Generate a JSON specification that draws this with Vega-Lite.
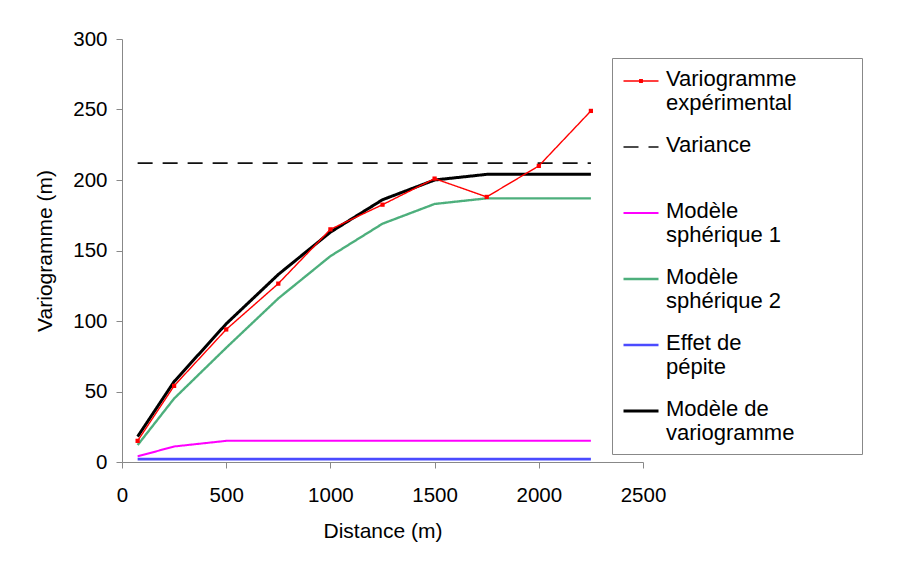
{
  "$schema": "https://vega.github.io/schema/vega-lite/v6.json",
  "width": 521,
  "height": 423,
  "autosize": "none",
  "padding": {"left": 122, "top": 39, "right": 262, "bottom": 102},
  "background": "white",
  "config": {"font": "Liberation Sans", "view": {"stroke": null}},
  "data": {
    "values": [
      {"serie": "Modèle de variogramme", "distance": 75, "gamma": 18},
      {"serie": "Modèle de variogramme", "distance": 250, "gamma": 57},
      {"serie": "Modèle de variogramme", "distance": 500, "gamma": 98},
      {"serie": "Modèle de variogramme", "distance": 750, "gamma": 133},
      {"serie": "Modèle de variogramme", "distance": 1000, "gamma": 163},
      {"serie": "Modèle de variogramme", "distance": 1250, "gamma": 186},
      {"serie": "Modèle de variogramme", "distance": 1500, "gamma": 200},
      {"serie": "Modèle de variogramme", "distance": 1750, "gamma": 204},
      {"serie": "Modèle de variogramme", "distance": 2000, "gamma": 204},
      {"serie": "Modèle de variogramme", "distance": 2250, "gamma": 204},
      {"serie": "Modèle sphérique 2", "distance": 75, "gamma": 12},
      {"serie": "Modèle sphérique 2", "distance": 250, "gamma": 45},
      {"serie": "Modèle sphérique 2", "distance": 500, "gamma": 81},
      {"serie": "Modèle sphérique 2", "distance": 750, "gamma": 116},
      {"serie": "Modèle sphérique 2", "distance": 1000, "gamma": 146},
      {"serie": "Modèle sphérique 2", "distance": 1250, "gamma": 169},
      {"serie": "Modèle sphérique 2", "distance": 1500, "gamma": 183},
      {"serie": "Modèle sphérique 2", "distance": 1750, "gamma": 187},
      {"serie": "Modèle sphérique 2", "distance": 2000, "gamma": 187},
      {"serie": "Modèle sphérique 2", "distance": 2250, "gamma": 187},
      {"serie": "Modèle sphérique 1", "distance": 75, "gamma": 4},
      {"serie": "Modèle sphérique 1", "distance": 250, "gamma": 11},
      {"serie": "Modèle sphérique 1", "distance": 500, "gamma": 15},
      {"serie": "Modèle sphérique 1", "distance": 750, "gamma": 15},
      {"serie": "Modèle sphérique 1", "distance": 1000, "gamma": 15},
      {"serie": "Modèle sphérique 1", "distance": 1250, "gamma": 15},
      {"serie": "Modèle sphérique 1", "distance": 1500, "gamma": 15},
      {"serie": "Modèle sphérique 1", "distance": 1750, "gamma": 15},
      {"serie": "Modèle sphérique 1", "distance": 2000, "gamma": 15},
      {"serie": "Modèle sphérique 1", "distance": 2250, "gamma": 15},
      {"serie": "Effet de pépite", "distance": 75, "gamma": 2},
      {"serie": "Effet de pépite", "distance": 250, "gamma": 2},
      {"serie": "Effet de pépite", "distance": 500, "gamma": 2},
      {"serie": "Effet de pépite", "distance": 750, "gamma": 2},
      {"serie": "Effet de pépite", "distance": 1000, "gamma": 2},
      {"serie": "Effet de pépite", "distance": 1250, "gamma": 2},
      {"serie": "Effet de pépite", "distance": 1500, "gamma": 2},
      {"serie": "Effet de pépite", "distance": 1750, "gamma": 2},
      {"serie": "Effet de pépite", "distance": 2000, "gamma": 2},
      {"serie": "Effet de pépite", "distance": 2250, "gamma": 2},
      {"serie": "Variance", "distance": 75, "gamma": 212},
      {"serie": "Variance", "distance": 2250, "gamma": 212},
      {"serie": "Variogramme expérimental", "distance": 75, "gamma": 15},
      {"serie": "Variogramme expérimental", "distance": 250, "gamma": 54},
      {"serie": "Variogramme expérimental", "distance": 500, "gamma": 94},
      {"serie": "Variogramme expérimental", "distance": 750, "gamma": 126.5},
      {"serie": "Variogramme expérimental", "distance": 1000, "gamma": 165},
      {"serie": "Variogramme expérimental", "distance": 1250, "gamma": 182.5},
      {"serie": "Variogramme expérimental", "distance": 1500, "gamma": 201},
      {"serie": "Variogramme expérimental", "distance": 1750, "gamma": 188},
      {"serie": "Variogramme expérimental", "distance": 2000, "gamma": 210},
      {"serie": "Variogramme expérimental", "distance": 2250, "gamma": 249}
    ]
  },
  "encoding": {
    "x": {
      "field": "distance", "type": "quantitative",
      "scale": {"domain": [0, 2500], "nice": false},
      "axis": {
        "title": "Distance (m)", "values": [0, 500, 1000, 1500, 2000, 2500], "format": "d",
        "grid": false, "domainColor": "#888", "tickColor": "#888", "tickSize": 6,
        "labelFontSize": 20.5, "labelColor": "black", "labelPadding": 17, "labelFlush": false,
        "titleFontSize": 21, "titleFontWeight": "normal", "titleColor": "black", "titlePadding": 15
      }
    },
    "y": {
      "field": "gamma", "type": "quantitative",
      "scale": {"domain": [0, 300], "nice": false},
      "axis": {
        "title": "Variogramme (m)", "values": [0, 50, 100, 150, 200, 250, 300], "format": "d",
        "grid": false, "domainColor": "#888", "tickColor": "#888", "tickSize": 6,
        "labelFontSize": 20.5, "labelColor": "black", "labelPadding": 9,
        "titleFontSize": 21, "titleFontWeight": "normal", "titleColor": "black", "titlePadding": 17
      }
    }
  },
  "layer": [
    {
      "mark": {"type": "line", "strokeJoin": "miter"},
      "encoding": {
        "color": {
          "field": "serie", "type": "nominal",
          "scale": {
            "domain": ["Variogramme expérimental", "Variance", "Modèle sphérique 1", "Modèle sphérique 2", "Effet de pépite", "Modèle de variogramme"],
            "range": ["#FF0000", "#111111", "#FF00FF", "#4DAF7C", "#4B4BFF", "#000000"]
          },
          "legend": {
            "orient": "none", "legendX": 490, "legendY": 19,
            "title": "\u00a0", "titleOrient": "right", "titleFontSize": 40, "titlePadding": 56,
            "strokeColor": "#888", "fillColor": "white", "padding": 10,
            "labelFontSize": 22, "labelColor": "black", "labelFont": "Liberation Sans",
            "labelLineHeight": 23.5, "labelBaseline": "top",
            "symbolType": "stroke", "symbolSize": 1225, "rowPadding": 20,
            "labelOffset": 6, "labelLimit": 300,
            "labelExpr": "datum.label == 'Variogramme expérimental' ? ['Variogramme', 'expérimental'] : datum.label == 'Variance' ? ['Variance', ' '] : datum.label == 'Modèle sphérique 1' ? ['Modèle', 'sphérique 1'] : datum.label == 'Modèle sphérique 2' ? ['Modèle', 'sphérique 2'] : datum.label == 'Effet de pépite' ? ['Effet de', 'pépite'] : ['Modèle de', 'variogramme']",
            "encode": {
              "labels": {"update": {"y": {"value": 13}, "dy": {"value": -12}}},
              "symbols": {"update": {
                "y": {"value": 13},
                "shape": {"signal": "datum.value === 'Variogramme expérimental' ? 'M-1,0L1,0M-0.07,-0.07L0.07,-0.07L0.07,0.07L-0.07,0.07Z' : 'stroke'"},
                "fill": {"signal": "datum.value === 'Variogramme expérimental' ? '#FF0000' : 'transparent'"}
              }}
            }
          }
        },
        "strokeDash": {
          "field": "serie", "type": "nominal",
          "scale": {
            "domain": ["Variogramme expérimental", "Variance", "Modèle sphérique 1", "Modèle sphérique 2", "Effet de pépite", "Modèle de variogramme"],
            "range": [[1, 0], [15, 10], [1, 0], [1, 0], [1, 0], [1, 0]]
          }
        },
        "strokeWidth": {
          "field": "serie", "type": "nominal",
          "scale": {
            "domain": ["Variogramme expérimental", "Variance", "Modèle sphérique 1", "Modèle sphérique 2", "Effet de pépite", "Modèle de variogramme"],
            "range": [1.4, 3, 1.4, 1.4, 1.4, 3]
          }
        }
      }
    },
    {
      "transform": [{"filter": "datum.serie === 'Variogramme expérimental'"}],
      "mark": {"type": "point", "shape": "square", "filled": true, "color": "#FF0000", "size": 18, "opacity": 1},
      "encoding": {}
    }
  ]
}
